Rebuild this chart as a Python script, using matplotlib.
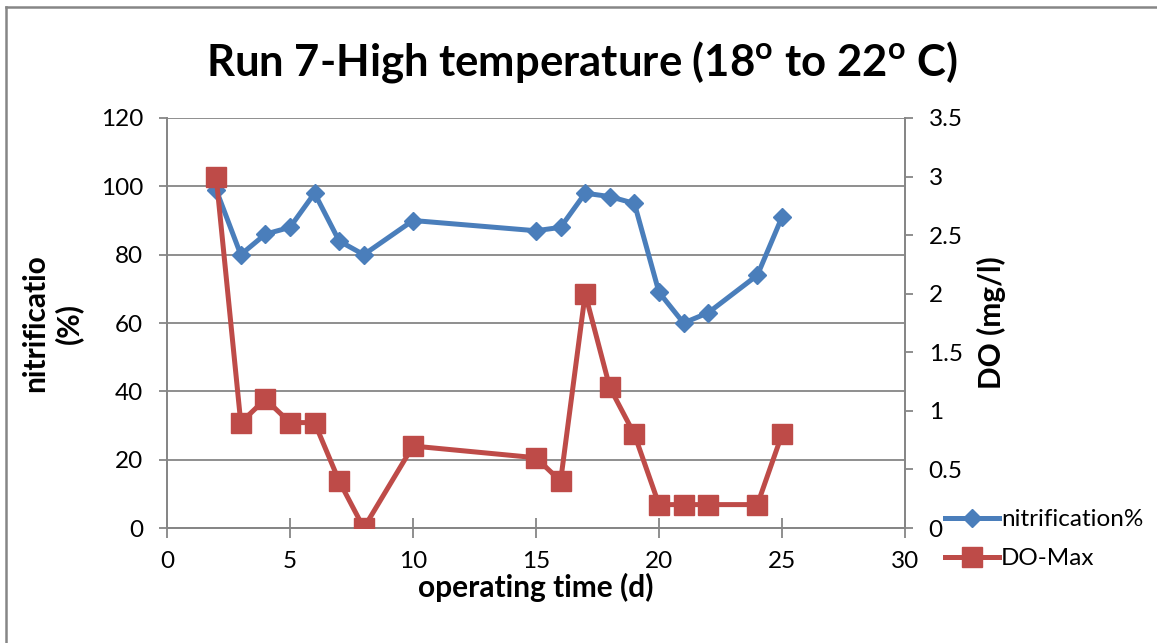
import matplotlib
matplotlib.use("Agg")
import matplotlib.pyplot as plt
from matplotlib.lines import Line2D

plt.rcParams['font.family'] = ['Lato', 'DejaVu Sans']
plt.rcParams['mathtext.default'] = 'regular'

# operating day of each sample
days = [2, 3, 4, 5, 6, 7, 8, 10, 15, 16, 17, 18, 19, 20, 21, 22, 24, 25]
# nitrification efficiency (%)
nitrification = [99, 80, 86, 88, 98, 84, 80, 90, 87, 88, 98, 97, 95, 69, 60, 63, 74, 91]
# maximum dissolved oxygen (mg/l)
do_max = [3.0, 0.9, 1.1, 0.9, 0.9, 0.4, 0.0, 0.7, 0.6, 0.4, 2.0, 1.2, 0.8, 0.2, 0.2, 0.2, 0.2, 0.8]

x_ticks = [0, 5, 10, 15, 20, 25, 30]
left_ticks = [0, 20, 40, 60, 80, 100, 120]
right_ticks = [0, 0.5, 1, 1.5, 2, 2.5, 3, 3.5]
right_labels = ['0', '0.5', '1', '1.5', '2', '2.5', '3', '3.5']

blue = '#4A7EBB'
red = '#BE4B48'
grey = '#868686'

fig = plt.figure(figsize=(11.57, 6.43), dpi=100)
ax = fig.add_axes([0.1443, 0.1788, 0.7822 - 0.1443, 0.8165 - 0.1788])
ax2 = ax.twinx()

ax.set_xlim(0, 30)
ax.set_ylim(0, 120)
ax2.set_ylim(0, 3.5)

ax.set_xticks(x_ticks)
ax.set_yticks(left_ticks)
ax2.set_yticks(right_ticks)
ax2.set_yticklabels(right_labels)

ax.grid(axis='y', color=grey, linewidth=1.3)
ax.set_axisbelow(True)

for a in (ax, ax2):
    for s in a.spines.values():
        s.set_color(grey)
        s.set_linewidth(1.3)
    a.spines['top'].set_visible(False)
ax.tick_params(axis='x', direction='inout', length=15, width=1.3, color=grey,
               labelsize=17.5, pad=9)
ax.tick_params(axis='y', direction='out', length=6, width=1.3, color=grey,
               labelsize=17.5, pad=11)
ax2.tick_params(axis='y', direction='out', length=6, width=1.3, color=grey,
                labelsize=17.5, pad=11)

ax.plot(days, nitrification, color=blue, linewidth=3.6, marker='D',
        markersize=9.5, markeredgecolor=blue, zorder=3)
ax2.plot(days, do_max, color=red, linewidth=3.6, marker='s',
         markersize=14, markeredgecolor=red, zorder=3)

ax.set_xlabel('operating time (d)', fontsize=21.5, fontweight='bold', labelpad=1)
ax.set_ylabel('nitrificatio\n(%)', fontsize=21.5, fontweight='bold', labelpad=13,
              linespacing=1.2)
ax2.set_ylabel('DO (mg/l)', fontsize=21.5, fontweight='bold', labelpad=10)

fig.text(0.503, 0.904, 'Run 7-High temperature (18$^{o}$ to 22$^{o}$ C)',
         ha='center', va='center', fontsize=31.4, fontweight='bold')

handles = [
    Line2D([], [], color=blue, linewidth=3.6, marker='D', markersize=9.5),
    Line2D([], [], color=red, linewidth=3.6, marker='s', markersize=14),
]
fig.legend(handles, ['nitrification%', 'DO-Max'], loc='upper left',
           bbox_to_anchor=(0.8168, 0.2084), frameon=False, fontsize=17.5,
           handlelength=2.2, handletextpad=0.1, labelspacing=0.75,
           borderaxespad=0, borderpad=0)

# outer frame edges
fig.add_artist(Line2D([0.0052, 0.0052], [0, 0.989], transform=fig.transFigure,
                      color=grey, linewidth=1.8))
fig.add_artist(Line2D([0.0052, 1], [0.989, 0.989], transform=fig.transFigure,
                      color=grey, linewidth=1.8))

fig.savefig('out.png', dpi=100)
